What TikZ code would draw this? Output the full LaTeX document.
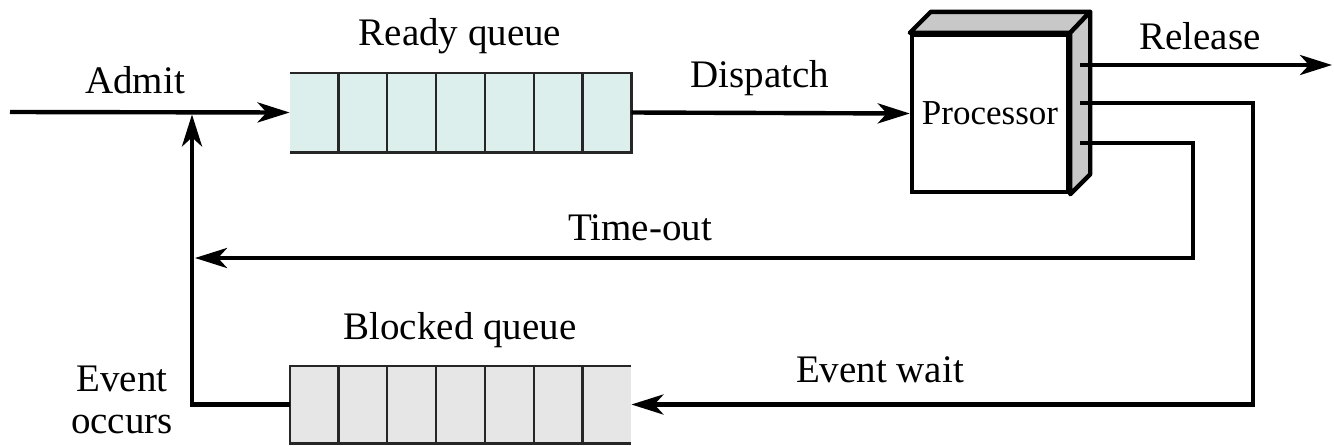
\documentclass[tikz,border=0pt]{standalone}
\usepackage{fontspec}
\setmainfont{Liberation Serif}
\usetikzlibrary{arrows.meta,calc}
\definecolor{readyfill}{RGB}{221,239,236}
\definecolor{blockfill}{RGB}{230,230,230}
\definecolor{sidegray}{RGB}{200,200,200}
\begin{document}
\begin{tikzpicture}[x=0.5pt,y=-0.5pt,
  flow/.style={line width=2.2pt},
  arr/.style={flow,-{Stealth[length=16pt,width=10pt,inset=4.5pt]}},
  cellline/.style={line width=1.1pt, draw=black!85},
  queuebox/.style={minimum width=170.5pt, inner sep=0pt, draw=none},
  lbl/.style={font=\fontsize{19.5}{22}\selectfont, inner sep=0pt},
]
\useasboundingbox (0,0) rectangle (1334,445);

% ready queue: open on the left
\node[queuebox, minimum height=39.5pt, fill=readyfill] (ready) at (460.5,112.5) {};
\draw[cellline] (ready.north west) -- (ready.north east) -- (ready.south east) -- (ready.south west);
\foreach \i in {1,...,6}
  \draw[cellline] ($(ready.north west)!\i/7!(ready.north east)$) -- ($(ready.south west)!\i/7!(ready.south east)$);

% blocked queue: open on the right
\node[queuebox, minimum height=38.5pt, fill=blockfill] (blocked) at (460.5,404.5) {};
\draw[cellline] (blocked.north east) -- (blocked.north west) -- (blocked.south west) -- (blocked.south east);
\foreach \i in {1,...,6}
  \draw[cellline] ($(blocked.north west)!\i/7!(blocked.north east)$) -- ($(blocked.south west)!\i/7!(blocked.south east)$);

% processor block with top and side faces
\node[draw, line width=2.2pt, fill=white, minimum width=78pt, minimum height=78.5pt,
      inner sep=0pt, font=\fontsize{17.5}{20}\selectfont] (proc) at (990,113.5) {Processor};
\draw[line width=2.2pt, fill=sidegray, line join=round]
  (proc.north west) -- ++(21,-21) -- ($(proc.north east)+(20,-21)$) -- (proc.north east) -- cycle;
\draw[line width=2.2pt, fill=sidegray, line join=round]
  (proc.north east) -- ($(proc.north east)+(20,-21)$) -- ($(proc.south east)+(20,-20)$) -- (proc.south east) -- cycle;

% connector end points
\coordinate (src) at (10,112);
\coordinate (o1) at (1080,65);
\coordinate (o2) at (1080,103);
\coordinate (o3) at (1080,143);
\coordinate (out) at (1332,65);
\coordinate (waitcorner) at (1253,103);
\coordinate (tocorner) at (1193,143);
\coordinate (tojoin) at (192,258);
\coordinate (evcorner) at (192,404.5);
\coordinate (join) at (192,112);

% connectors
\draw[arr] (src) -- (ready.west);
\draw[arr] (ready.east) -- (proc.west);
\draw[arr] (o1) -- (out);
\draw[arr] (o2) -- (waitcorner) |- (blocked.east);
\draw[arr] (o3) -- (tocorner) |- ([xshift=1.5pt]tojoin);
\draw[arr] (blocked.west) -- (evcorner) -- ([yshift=-1.2pt]join);

% labels
\node[lbl] (admitlbl) at (135,80) {Admit};
\node[lbl] (readylbl) at (460,36) {Ready queue};
\node[lbl] (dispatchlbl) at (760,78) {Dispatch};
\node[lbl] (releaselbl) at (1200,36) {Release};
\node[lbl] (timeoutlbl) at (640,228) {Time-out};
\node[lbl] (blockedlbl) at (460,330) {Blocked queue};
\node[lbl] (waitlbl) at (880,370) {Event wait};
\node[lbl, align=center, font=\fontsize{19.5}{21}\selectfont] (occurslbl) at (122,400) {Event\\occurs};
\end{tikzpicture}
\end{document}
